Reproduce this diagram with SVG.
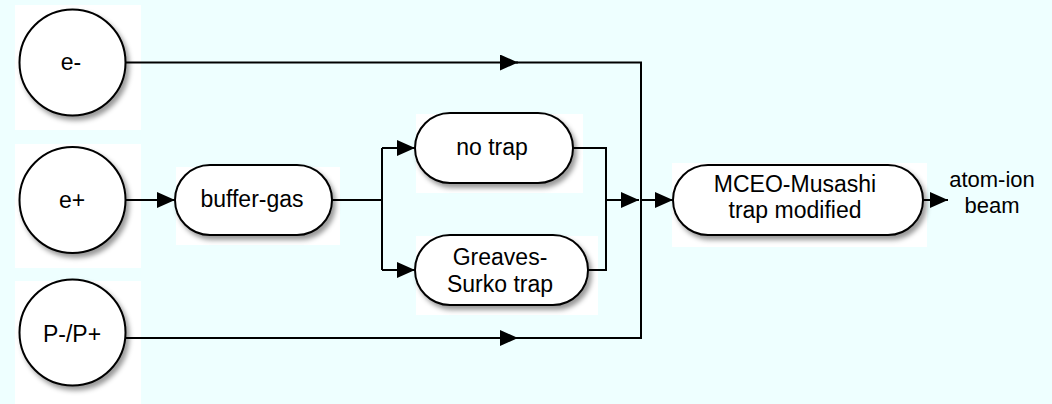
<svg xmlns="http://www.w3.org/2000/svg" width="1052" height="404" viewBox="0 0 1052 404">
<defs>
<style>
.bg{fill:#EEFFFF}
.pad{fill:#FFFFFF}
.node{fill:#FFFFFF;stroke:#000;stroke-width:2;filter:url(#sh)}
.t{font-family:"Liberation Sans",Arial,sans-serif;font-size:23px;fill:#000;text-anchor:middle}
.lbl{font-family:"Liberation Sans",Arial,sans-serif;font-size:22px;fill:#000;text-anchor:middle}
.c{fill:none;stroke:#000;stroke-width:2}
</style>
<filter id="sh" x="-20%" y="-20%" width="150%" height="150%">
<feDropShadow dx="3" dy="4" stdDeviation="2.5" flood-color="#000" flood-opacity="0.4"/>
</filter>
<marker id="ah" markerUnits="userSpaceOnUse" markerWidth="18" markerHeight="16" refX="18" refY="8" orient="auto">
<path d="M0,0 L18,8 L0,16 Z" fill="#000"/>
</marker>
</defs>
<rect class="bg" x="0" y="0" width="1052" height="404"/>
<g id="pads">
<rect class="pad" x="15" y="5" width="126" height="125"/>
<rect class="pad" x="15" y="144" width="126" height="124"/>
<rect class="pad" x="15" y="281" width="126" height="123"/>
<rect class="pad" x="176" y="167" width="164" height="78"/>
<rect class="pad" x="416" y="114" width="167" height="79"/>
<rect class="pad" x="416" y="236" width="182" height="79"/>
<rect class="pad" x="672" y="163" width="255" height="84"/>
</g>
<g id="connectors">
<path class="c" d="M126,62.5 H518" marker-end="url(#ah)"/>
<path class="c" d="M516,62.5 H641 V338 H516"/>
<path class="c" d="M126,338 H518" marker-end="url(#ah)"/>
<path class="c" d="M126,200 H175" marker-end="url(#ah)"/>
<path class="c" d="M332,200 H382"/>
<path class="c" d="M382,148 V270"/>
<path class="c" d="M382,148 H415" marker-end="url(#ah)"/>
<path class="c" d="M382,270 H415" marker-end="url(#ah)"/>
<path class="c" d="M573,148 H606 V270 H588"/>
<path class="c" d="M606,200 H639" marker-end="url(#ah)"/>
<path class="c" d="M641,200 H673" marker-end="url(#ah)"/>
<path class="c" d="M923,200 H948" marker-end="url(#ah)"/>
</g>
<g id="n-eminus">
<circle class="node" cx="72.5" cy="62.5" r="53"/>
<text class="t" x="71" y="70">e-</text>
</g>
<g id="n-eplus">
<circle class="node" cx="72.5" cy="200" r="53"/>
<text class="t" x="72" y="208">e+</text>
</g>
<g id="n-pbar">
<circle class="node" cx="72.5" cy="332.5" r="53"/>
<text class="t" x="72" y="342">P-/P+</text>
</g>
<g id="n-buffer">
<rect class="node" x="175" y="165" width="157" height="70" rx="35"/>
<text class="t" x="252" y="207">buffer-gas</text>
</g>
<g id="n-notrap">
<rect class="node" x="415" y="113" width="158" height="70" rx="35"/>
<text class="t" x="492" y="155">no trap</text>
</g>
<g id="n-greaves">
<rect class="node" x="415" y="235" width="173" height="70" rx="35"/>
<text class="t" x="500" y="265">Greaves-</text>
<text class="t" x="500" y="292">Surko trap</text>
</g>
<g id="n-mceo">
<rect class="node" x="673" y="165" width="250" height="70" rx="35"/>
<text class="t" x="795" y="192">MCEO-Musashi</text>
<text class="t" x="795" y="218">trap modified</text>
</g>
<g id="n-out">
<text class="lbl" x="992" y="187">atom-ion</text>
<text class="lbl" x="992" y="213">beam</text>
</g>
</svg>
